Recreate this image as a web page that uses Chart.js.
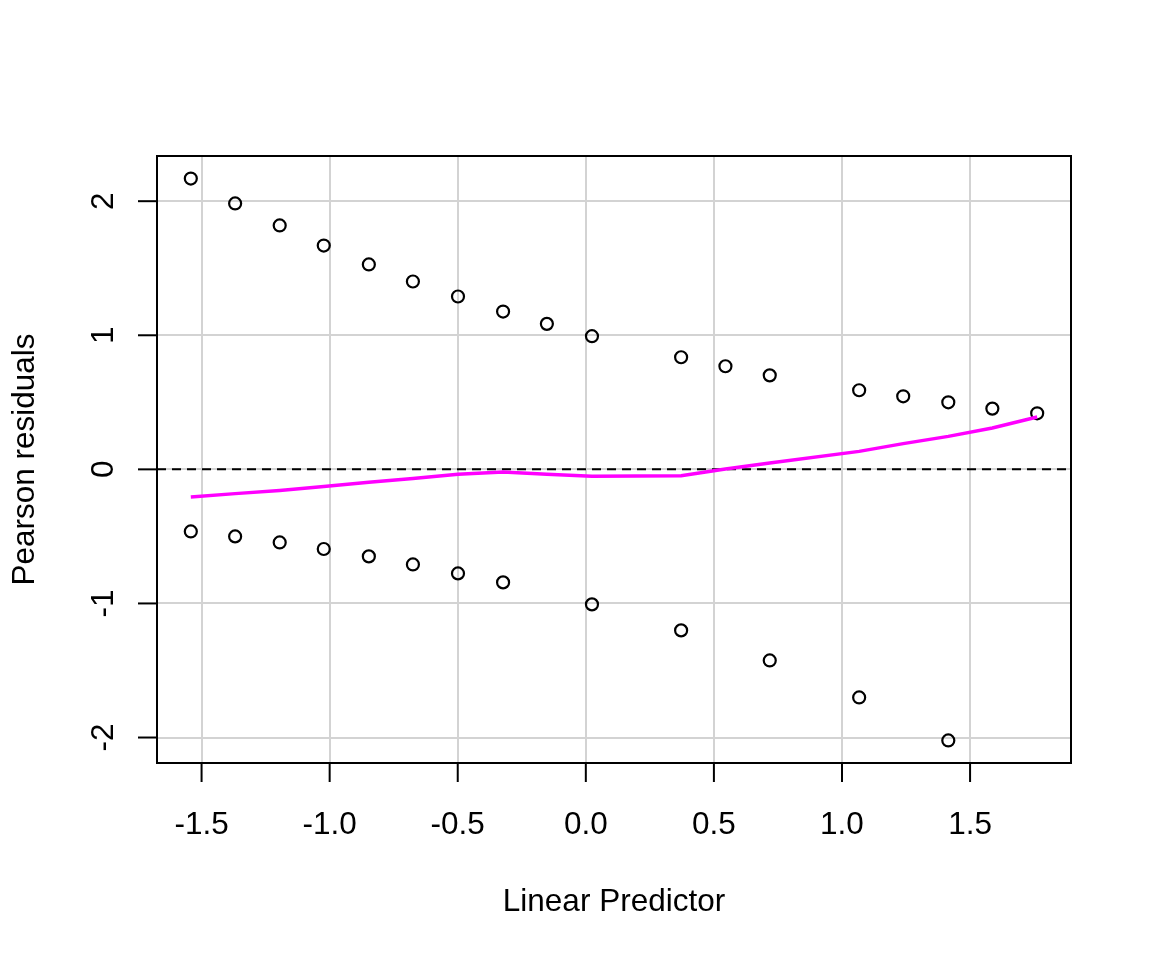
<!DOCTYPE html>
<html><head><meta charset="utf-8">
<script src="https://cdn.jsdelivr.net/npm/chart.js@4"></script>
<style>html,body{margin:0;padding:0;background:#fff}#wrap{width:1152px;height:960px}</style>
</head><body><div id="wrap"><canvas id="c" width="1152" height="960"></canvas></div>
<script>
// ---- data ----
const lpUpper  = [-1.542,-1.369,-1.195,-1.023,-0.847,-0.675,-0.499,-0.323,-0.152,0.024,0.372,0.545,0.718,1.067,1.239,1.415,1.587,1.762];
const resUpper = [2.169,1.983,1.819,1.669,1.528,1.401,1.289,1.177,1.085,0.993,0.836,0.769,0.701,0.590,0.545,0.500,0.453,0.418];
const lpLower  = [-1.542,-1.369,-1.195,-1.023,-0.847,-0.675,-0.499,-0.323,0.024,0.372,0.718,1.067,1.415];
const resLower = [-0.463,-0.500,-0.545,-0.594,-0.649,-0.709,-0.776,-0.843,-1.007,-1.201,-1.425,-1.701,-2.022];
const lpSmooth  = [-1.542,-1.369,-1.195,-1.023,-0.847,-0.675,-0.499,-0.323,-0.152,0.024,0.372,0.545,0.718,1.067,1.239,1.415,1.587,1.762];
const resSmooth = [-0.206,-0.181,-0.157,-0.127,-0.097,-0.069,-0.037,-0.019,-0.037,-0.052,-0.047,0.003,0.048,0.134,0.192,0.246,0.309,0.391];
const xTicks = [-1.5,-1.0,-0.5,0.0,0.5,1.0,1.5];
const xTickLabels = ['-1.5','-1.0','-0.5','0.0','0.5','1.0','1.5'];
const yTicks = [-2,-1,0,1,2];
const yTickLabels = ['-2','-1','0','1','2'];
const xRange = [-1.674, 1.894];
const yRange = [-2.190, 2.337];
const xTitle = 'Linear Predictor';
const yTitle = 'Pearson residuals';

const pts = (xs, ys) => xs.map((x, i) => ({x: x, y: ys[i]}));
const FONT = '31.5px "Liberation Sans", Arial, sans-serif';

const decor = {
  id: 'decor',
  beforeDatasetsDraw(chart) {
    const {ctx, chartArea: a, scales: {y}} = chart;
    const py = y.getPixelForValue(0);
    ctx.save();
    ctx.strokeStyle = '#000'; ctx.lineWidth = 2; ctx.setLineDash([9, 6]);
    ctx.beginPath(); ctx.moveTo(a.left, py); ctx.lineTo(a.right, py); ctx.stroke();
    ctx.restore();
  },
  afterDraw(chart) {
    const {ctx, chartArea: a, scales: {x, y}} = chart;
    ctx.save();
    ctx.strokeStyle = '#000'; ctx.lineWidth = 2; ctx.setLineDash([]);
    ctx.strokeRect(a.left, a.top, a.right - a.left, a.bottom - a.top);
    ctx.fillStyle = '#000'; ctx.font = FONT;
    // x ticks
    ctx.textAlign = 'center'; ctx.textBaseline = 'alphabetic';
    xTicks.forEach((v, i) => {
      const px = x.getPixelForValue(v);
      ctx.beginPath(); ctx.moveTo(px, a.bottom); ctx.lineTo(px, a.bottom + 19); ctx.stroke();
      ctx.fillText(xTickLabels[i], px, 834);
    });
    // y ticks
    yTicks.forEach((v, i) => {
      const py = y.getPixelForValue(v);
      ctx.beginPath(); ctx.moveTo(a.left, py); ctx.lineTo(a.left - 19, py); ctx.stroke();
      ctx.save(); ctx.translate(112.5, py); ctx.rotate(-Math.PI / 2);
      ctx.fillText(yTickLabels[i], 0, 0); ctx.restore();
    });
    // titles
    ctx.fillText(xTitle, (a.left + a.right) / 2, 911);
    ctx.save(); ctx.translate(33.5, (a.top + a.bottom) / 2); ctx.rotate(-Math.PI / 2);
    ctx.fillText(yTitle, 0, 0); ctx.restore();
    ctx.restore();
  }
};

new Chart(document.getElementById('c'), {
  type: 'scatter',
  data: {
    datasets: [
      {label: 'smooth', data: pts(lpSmooth, resSmooth), showLine: true, borderColor: '#FF00FF',
       borderWidth: 3.5, pointRadius: 0, fill: false, tension: 0},
      {label: 'upper', data: pts(lpUpper, resUpper), pointRadius: 6, pointBorderWidth: 2.2,
       pointBorderColor: '#000', pointBackgroundColor: 'rgba(0,0,0,0)', borderColor: '#000', pointStyle: 'circle'},
      {label: 'lower', data: pts(lpLower, resLower), pointRadius: 6, pointBorderWidth: 2.2,
       pointBorderColor: '#000', pointBackgroundColor: 'rgba(0,0,0,0)', borderColor: '#000', pointStyle: 'circle'}
    ]
  },
  options: {
    responsive: false, animation: false, devicePixelRatio: 1,
    layout: {padding: {left: 157, top: 156, right: 81, bottom: 197}},
    plugins: {legend: {display: false}, tooltip: {enabled: false}},
    scales: {
      x: {type: 'linear', min: xRange[0], max: xRange[1],
          afterBuildTicks: s => { s.ticks = xTicks.map(v => ({value: v})); },
          afterFit: s => { s.height = 0; },
          ticks: {display: false}, border: {display: false},
          grid: {color: '#D3D3D3', lineWidth: 2, drawTicks: false}},
      y: {type: 'linear', min: yRange[0], max: yRange[1],
          afterBuildTicks: s => { s.ticks = yTicks.map(v => ({value: v})); },
          afterFit: s => { s.width = 0; },
          ticks: {display: false}, border: {display: false},
          grid: {color: '#D3D3D3', lineWidth: 2, drawTicks: false}}
    }
  },
  plugins: [decor]
});
</script></body></html>
